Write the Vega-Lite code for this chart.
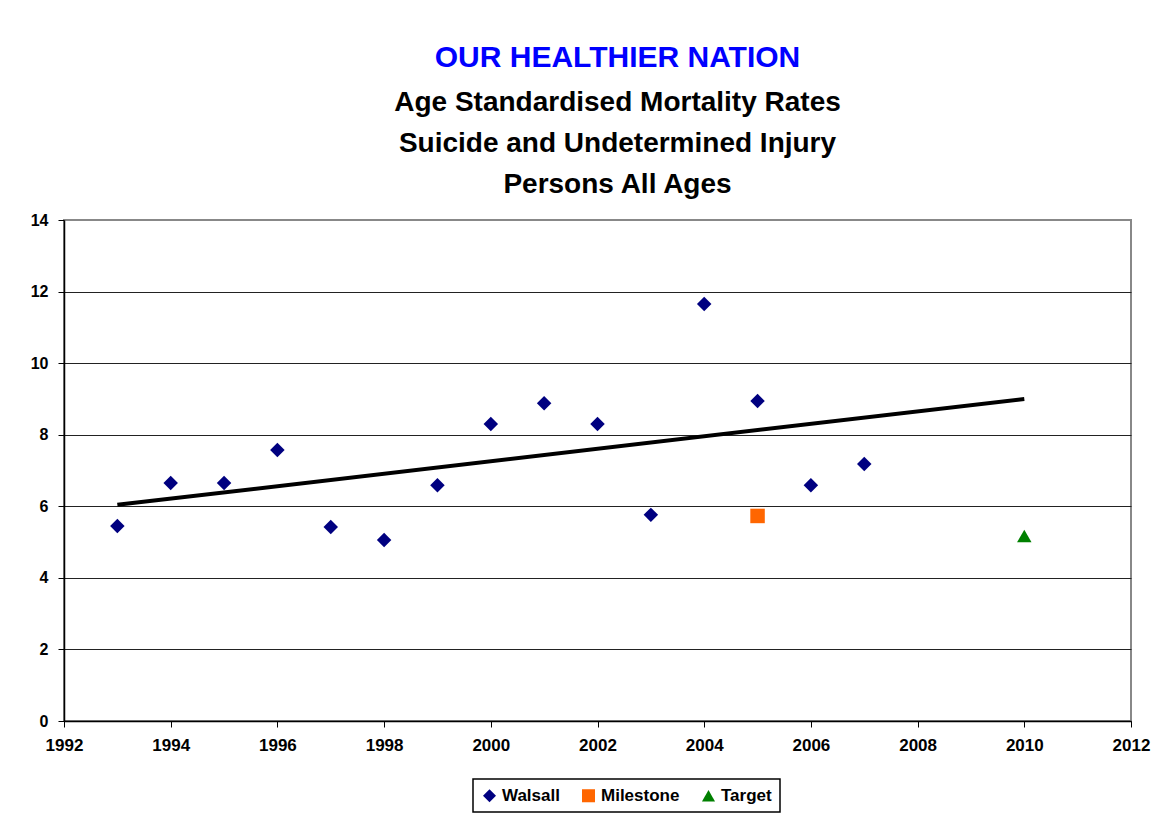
{
  "$schema": "https://vega.github.io/schema/vega-lite/v6.json",
  "width": 1067,
  "height": 501,
  "autosize": {"type": "none"},
  "padding": {"left": 64, "top": 220, "right": 39, "bottom": 97},
  "background": "white",
  "title": {
    "text": "OUR HEALTHIER NATION",
    "subtitle": ["Age Standardised Mortality Rates", "Suicide and Undetermined Injury", "Persons All Ages"],
    "anchor": "middle",
    "dx": 20,
    "offset": 13,
    "font": "Liberation Sans",
    "fontSize": 30,
    "fontWeight": "bold",
    "color": "#0000FF",
    "subtitleFont": "Liberation Sans",
    "subtitleFontSize": 28,
    "subtitleFontWeight": "bold",
    "subtitleColor": "#000000",
    "subtitleLineHeight": 41,
    "subtitlePadding": 16
  },
  "datasets": {
    "points": [
      {"year": 1993, "value": 5.45, "series": "Walsall"},
      {"year": 1994, "value": 6.65, "series": "Walsall"},
      {"year": 1995, "value": 6.65, "series": "Walsall"},
      {"year": 1996, "value": 7.57, "series": "Walsall"},
      {"year": 1997, "value": 5.42, "series": "Walsall"},
      {"year": 1998, "value": 5.06, "series": "Walsall"},
      {"year": 1999, "value": 6.59, "series": "Walsall"},
      {"year": 2000, "value": 8.30, "series": "Walsall"},
      {"year": 2001, "value": 8.88, "series": "Walsall"},
      {"year": 2002, "value": 8.30, "series": "Walsall"},
      {"year": 2003, "value": 5.76, "series": "Walsall"},
      {"year": 2004, "value": 11.65, "series": "Walsall"},
      {"year": 2005, "value": 8.94, "series": "Walsall"},
      {"year": 2006, "value": 6.59, "series": "Walsall"},
      {"year": 2007, "value": 7.18, "series": "Walsall"},
      {"year": 2005, "value": 5.73, "series": "Milestone"},
      {"year": 2010, "value": 5.17, "series": "Target"}
    ],
    "trend": [
      {"year": 1993, "value": 6.04},
      {"year": 2010, "value": 9.0}
    ]
  },
  "layer": [
    {
      "data": {"name": "trend"},
      "mark": {"type": "line", "color": "#000000", "strokeWidth": 4},
      "encoding": {
        "x": {"field": "year", "type": "quantitative"},
        "y": {"field": "value", "type": "quantitative"}
      }
    },
    {
      "data": {"name": "points"},
      "mark": {"type": "point", "filled": true, "opacity": 1, "size": 210},
      "encoding": {
        "x": {
          "field": "year", "type": "quantitative",
          "scale": {"domain": [1992, 2012], "nice": false, "zero": false},
          "axis": {"values": [1992, 1994, 1996, 1998, 2000, 2002, 2004, 2006, 2008, 2010, 2012], "format": "d", "title": null, "grid": false, "labelFlush": false}
        },
        "y": {
          "field": "value", "type": "quantitative",
          "scale": {"domain": [0, 14], "nice": false},
          "axis": {
            "values": [0, 2, 4, 6, 8, 10, 12, 14], "title": null, "grid": true, "labelFlush": false,
            "gridColor": {"condition": {"test": "datum.value == 14", "value": "#888888"}, "value": "#222222"}
          }
        },
        "color": {
          "field": "series", "type": "nominal",
          "scale": {"domain": ["Walsall", "Milestone", "Target"], "range": ["#000080", "#FF6600", "#008000"]},
          "legend": {"title": null, "orient": "none", "legendX": 409, "legendY": 559}
        },
        "shape": {
          "field": "series", "type": "nominal",
          "scale": {"domain": ["Walsall", "Milestone", "Target"], "range": ["diamond", "square", "triangle-up"]},
          "legend": {"title": null, "orient": "none", "legendX": 409, "legendY": 559}
        }
      }
    }
  ],
  "config": {
    "view": {"stroke": "#888888", "strokeWidth": 2},
    "axis": {
      "labelFont": "Liberation Sans",
      "labelFontWeight": "bold",
      "labelColor": "#000000",
      "domainColor": "#000000",
      "domainWidth": 1.5,
      "tickColor": "#000000",
      "tickSize": 6,
      "gridWidth": 1
    },
    "axisX": {"labelFontSize": 17, "labelPadding": 10},
    "axisY": {"labelFontSize": 16, "labelPadding": 10},
    "legend": {
      "direction": "horizontal",
      "strokeColor": "#000000",
      "strokeWidth": 1.5,
      "padding": 8,
      "labelFont": "Liberation Sans",
      "labelFontWeight": "bold",
      "labelFontSize": 17,
      "labelColor": "#000000",
      "symbolSize": 170,
      "symbolOpacity": 1,
      "symbolStrokeWidth": 0,
      "columnPadding": 20,
      "labelOffset": 4
    }
  }
}
